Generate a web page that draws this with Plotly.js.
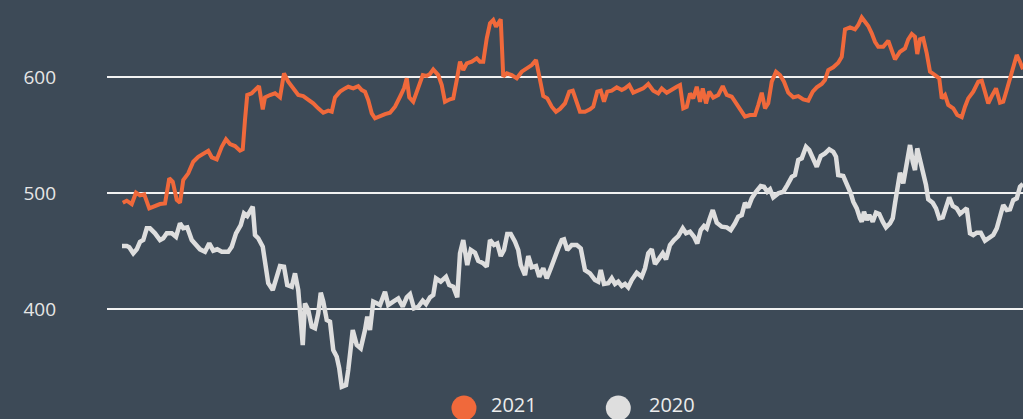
<!DOCTYPE html>
<html>
<head>
<meta charset="utf-8">
<script src="https://cdn.plot.ly/plotly-3.0.1.min.js"></script>
<style>
html,body{margin:0;padding:0;background:#3d4a57;}
#chart{width:1023px;height:419px;}
</style>
</head>
<body>
<div id="chart"></div>
<script>
// Day index (trading-day position along the year) and values per series
const day2021 = [0.3,1.9,3.9,5.6,7.2,8.9,10.9,13.2,15.2,17.2,18.9,20.3,21.9,23.2,24.5,26.5,28.5,30.5,32.5,34.5,35.9,37.9,39.9,41.6,43.2,45.2,47.2,48.3,49.2,50.1,51.9,53.9,54.8,56.3,57.2,59.2,61.2,63.2,64.8,66.5,68.5,70.5,72.5,74.5,76.5,78.5,80.5,82.5,83.9,85.2,87.2,89.2,90.5,92.5,94.5,95.9,97.2,98.5,99.9,101.2,103.2,105.2,107.2,109.2,111.2,112.8,113.9,114.9,116.5,118.5,120.3,121.9,123.2,124.5,126.5,127.9,129.2,131.2,132.5,133.9,135.2,136.5,137.9,139.9,141.9,143.2,144.5,145.9,147.2,148.5,149.6,150.5,151.5,152.5,153.9,155.9,157.9,159.9,161.9,163.9,165.6,167.2,168.5,170.1,171.9,173.6,175.2,177.2,178.9,180.3,181.6,183.2,185.2,187.2,188.5,190.1,191.5,192.8,194.1,195.9,197.9,199.9,201.2,202.9,204.5,206.5,208.5,210.5,212.5,214.5,215.9,217.9,219.9,221.9,223.2,224.5,225.9,227.2,228.5,229.9,231.2,232.3,233.6,234.9,236.5,238.5,240.3,241.9,243.9,245.9,247.9,249.2,251.2,253.2,254.5,255.9,257.2,258.5,259.9,261.6,263.2,264.8,266.5,268.5,270.5,272.5,274.5,276.3,277.9,279.9,281.2,282.5,284.5,286.5,287.9,289.2,291.2,293.2,294.5,295.9,297.2,298.5,299.9,301.2,302.5,304.5,306.5,307.9,309.2,311.2,313.2,314.5,315.9,317.2,318.1,319.2,320.5,321.9,323.2,325.2,326.9,327.9,329.2,330.5,332.5,334.1,335.9,337.2,338.5,340.5,342.5,343.9,345.2,346.5,347.9,349.6,351.2,352.5,353.9,355.2,356.5,357.9,359.2,360.4];
const val2021 = [491.6,493.4,490.5,500.3,498,498.9,486.8,488.8,490.5,491,512.7,509.8,494,491.7,511.2,517,527,531.3,534.2,536.5,530.8,529,539.9,546.3,542.2,540.5,536.5,537.7,563,584.5,586,590.2,592.2,572,582.5,584.5,586,582.5,603.2,596,590.2,584.5,583.6,580.7,577.3,573,569.2,571,570.1,582.5,587.4,590.2,591.6,590.2,592.2,588.8,587.4,580.2,568.7,564.4,566.4,568.1,569.2,574.4,583,590.2,598.9,582.5,578.7,591.6,601.7,600.9,602.6,606.6,601.7,593.1,578.7,580.8,581.6,597.4,613.2,606,611.8,613.2,616.1,613.2,613.2,633.4,646.3,649.1,643.4,646.3,649.7,600.3,603.2,601.7,598.9,604.6,607.5,610.3,614.7,597.4,583.6,581.6,574.4,570.1,572.5,577.3,587.4,588.2,580.2,570.1,570.1,572.1,574.4,587.4,588.2,578.7,587.4,588.2,591.1,588.8,590.2,593.1,586.5,588.2,590.2,594,588.2,585.9,590.2,586.5,589.4,591.6,593.1,573,574.4,585.9,581.6,591.6,578.7,590.2,577.3,587.4,582.3,584.5,592.2,584.5,583,575.9,569.2,565.8,567.2,567.2,575.9,586.5,573,577.3,596,604.6,601.7,596,586.5,582.5,583.6,580.7,579.6,587.4,591.1,594,597.4,606,608.4,612.3,617.5,641.1,642.8,641.1,644.8,651.4,647.7,644,637.7,630.4,626.1,626.1,631.3,621.8,615.2,621.8,624.7,632.5,637.1,634.7,619.8,632.5,633.4,620.4,604.6,601.7,598.9,581.6,584.5,575.9,573,567.2,565.3,574.4,581.6,587.4,596,596.8,585.9,577.3,583.6,590.2,577.9,578.7,588.8,598.9,610.3,619,613.2,606.6];

const day2020 = [0,1.9,2.9,4.5,5.9,7.2,8.5,9.9,11.2,13.2,15.2,16.5,17.9,19.9,21.6,23.2,24.5,26.1,27.9,29.6,31.2,33.2,34.9,36.5,38.1,39.9,42.5,43.9,45.6,47.5,48.8,50.1,51.2,52.3,53.2,54.5,56.3,57.2,58.5,60.3,61.9,63.2,64.8,66.1,67.9,69.2,70.5,71.5,72.3,73.2,74.5,75.9,77.2,78.5,79.5,80.5,81.9,83.2,84.5,85.9,86.9,87.9,89.6,90.5,91.2,92.3,93.9,95.5,97.2,98.1,99.2,100.5,101.9,103.2,105.2,106.5,108.5,110.5,112.3,113.9,115.2,116.8,118.5,120.3,121.6,123.2,124.5,125.6,127.5,129.6,130.9,132.5,134.1,135.2,136.5,138.1,139.5,141.2,142.5,144.5,145.9,147.2,148.8,150.1,151.5,152.8,154.1,155.5,157.2,158.5,159.5,161.2,162.5,163.9,165.6,166.9,168.5,169.9,171.5,172.8,174.5,175.9,176.8,178.1,179.9,181.9,183.5,185.2,187.2,189.2,190.5,191.5,192.8,194.5,195.9,197.2,198.5,199.9,201.2,202.5,203.9,205.9,207.9,209.2,210.5,211.9,213.2,214.9,216.3,217.6,219.2,220.8,222.5,224.3,225.6,227.2,228.8,230.1,231.5,232.8,233.9,234.9,236.3,237.9,239.9,241.9,243.5,245.2,246.5,247.9,249.2,250.5,251.9,253.6,255.5,256.8,258.1,259.2,260.5,262.5,264.5,266.1,267.9,269.2,270.5,271.9,273.6,274.9,276.5,277.9,279.5,281.2,282.9,284.5,285.6,286.5,288.5,290.1,291.5,292.5,293.9,295.2,295.9,296.8,297.9,298.9,300.3,301.6,302.9,304.3,305.6,307.2,308.3,309.2,310.1,311.2,312.5,313.9,315.2,316.3,317.2,318.1,319.2,320.5,321.6,322.5,324.3,325.6,326.9,328.3,329.6,330.9,332.3,333.9,335.2,336.5,337.9,339.2,340.5,341.9,343.5,345.2,346.9,348.5,349.9,351.2,352.5,353.9,355.2,356.5,357.9,359.2,360.4];
const val2020 = [454.3,454.3,453.2,448,451.5,458,459.5,469.6,469.6,465.3,459.5,461,465.3,465.3,462.3,473.9,469.6,470.4,459.5,455.2,451.5,449.4,456.6,450.3,451.5,449.4,449.4,453.7,465.3,472.4,482.5,480.2,484,488.2,463.8,461,453.7,439.4,422.2,416.4,427.8,437.1,436.5,420.7,419.3,430.8,416.4,390.5,369,404.9,399.1,384.8,383.4,396.3,414.1,406.4,390.5,389.1,364.7,358.9,348.9,333,334.5,347.4,361.8,381.9,369,366.1,381.9,393.4,381.9,406.4,404.9,403.4,414.9,403.4,406.4,409.2,402,410.1,412.8,400.6,402,407.2,404.3,410.1,412.1,426.5,423.6,427.8,420.7,419.3,410.1,448,459.5,437.9,450.9,448.5,441.6,439.4,436.5,459.5,455.2,456.6,445.7,450.9,464.7,464.7,458,450.9,437.9,429.3,445.7,436,437.1,427.8,435.1,426.5,435.1,443.7,452.3,459.5,460.1,450.9,455.2,455.2,452.3,433.6,430.8,425,423.6,433.6,421.6,422.2,426.5,421.6,423.6,419.8,421.6,418.7,425,431.3,427.8,435.1,448,451.5,438.8,443.7,448,442.8,455.2,459.5,462.9,469.6,465.3,466.7,462.3,456.6,468.1,471.6,469.6,476.7,485.3,474.4,471,470.4,468.1,473.9,479.6,481,491.6,487.6,495.4,501.1,506,505.4,501.1,503.2,496.3,499.7,501.1,506.9,514,515.5,528.4,529.9,539.9,537.1,529.9,522.7,531.9,534.2,537.7,535.6,531.3,515.5,514.7,506.9,499.7,492.5,486.8,478.2,475.3,483.9,476.7,481,475.3,483.1,482,475.3,470.4,473.9,478.2,491.1,505.4,517.5,508.4,525.6,541.4,527,519.8,538.5,529,517,506.9,494.6,491.6,486.8,478.2,479,488.2,496.3,488.8,486.8,482,483.9,486.8,465.3,463.8,465.8,465.8,458.9,461,463.8,469.6,481,489.7,485.3,485.9,493.9,495.4,505.4,507.8];

const seriesNames = ['2021', '2020'];
const yTicks = [400, 500, 600];

const bg = '#3d4a57';
const orange = '#f0693b';
const grey = '#dedede';

const traces = [
  {x: day2020, y: val2020, name: seriesNames[1], type: 'scatter', mode: 'lines',
   line: {color: grey, width: 4.5}, showlegend: false, hoverinfo: 'skip'},
  {x: day2021, y: val2021, name: seriesNames[0], type: 'scatter', mode: 'lines',
   line: {color: orange, width: 4}, showlegend: false, hoverinfo: 'skip'}
];

// Legend drawn with shapes + annotations (large circular swatches)
const legendItems = [
  {name: seriesNames[0], color: orange, cx: 0.3897, tx: 0.4181},
  {name: seriesNames[1], color: grey, cx: 0.5582, tx: 0.5906}
];
const shapes = legendItems.map(it => ({
  type: 'circle', xref: 'paper', yref: 'paper',
  xsizemode: 'pixel', ysizemode: 'pixel',
  xanchor: it.cx, yanchor: -0.02,
  x0: -12.5, x1: 12.5, y0: -12.5, y1: 12.5,
  fillcolor: it.color, line: {width: 0}
}));
const annotations = legendItems.map(it => ({
  text: it.name, xref: 'paper', yref: 'paper', x: it.tx, y: -0.0475,
  xanchor: 'left', yanchor: 'bottom', showarrow: false, borderpad: 0,
  font: {family: 'Open Sans, sans-serif', size: 20, color: '#ececec'}
}));

const layout = {
  width: 1023, height: 419,
  paper_bgcolor: bg, plot_bgcolor: bg,
  margin: {l: 107, r: 0, t: 0, b: 19},
  showlegend: false,
  xaxis: {range: [-6, 360.4], visible: false, fixedrange: true},
  yaxis: {
    range: [321.6, 666.4], tickvals: yTicks, ticktext: yTicks.map(String),
    showgrid: true, gridcolor: '#f2f2f2', gridwidth: 1.2,
    zeroline: false, showline: false, ticks: '',
    ticklabelstandoff: 50,
    tickfont: {family: 'Open Sans, sans-serif', size: 19, color: '#e6e6e6'},
    fixedrange: true
  },
  shapes: shapes,
  annotations: annotations,
  font: {family: 'Open Sans, sans-serif'}
};

Plotly.newPlot('chart', traces, layout, {displayModeBar: false, staticPlot: true});
</script>
</body>
</html>
